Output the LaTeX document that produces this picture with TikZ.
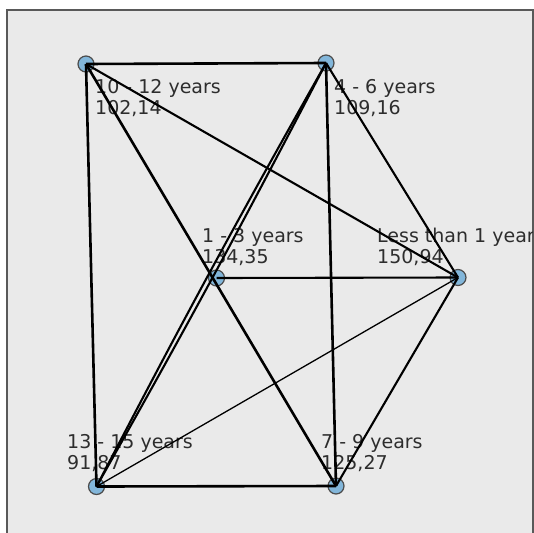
\documentclass[tikz,border=0pt]{standalone}
\usepackage{fontspec}
\setmainfont{DejaVu Sans}
\definecolor{nodeblue}{RGB}{130,182,218}
\definecolor{panelbg}{RGB}{234,234,234}
\definecolor{txtgray}{RGB}{45,45,45}
\begin{document}
\begin{tikzpicture}[x=1pt,y=-1pt,
  vertex/.style={circle,draw=black!70,fill=nodeblue,line width=1.2pt,minimum size=16pt,inner sep=0pt},
  lbl/.style={anchor=base west,inner sep=0pt,text=txtgray,font=\fontsize{19}{21}\selectfont},
  link/.style={draw=black,line width=2.6pt},
  midlink/.style={draw=black,line width=2.1pt},
  thinlink/.style={draw=black,line width=1.3pt}]
\useasboundingbox (0,0) rectangle (534,532);
\fill[white] (0,0) rectangle (534,532);
\draw[fill=panelbg,draw=black!65,line width=1.5pt] (7,10) rectangle (533,545);
\begin{scope}
\clip (7.75,10.75) rectangle (532.25,545);
% labels
\node[lbl] (la) at (95,93) {\begin{tabular}[t]{@{}l@{}}10 - 12 years\\102,14\end{tabular}};
\node[lbl] (lb) at (334,93) {\begin{tabular}[t]{@{}l@{}}4 - 6 years\\109,16\end{tabular}};
\node[lbl] (lc) at (202,242) {\begin{tabular}[t]{@{}l@{}}1 - 3 years\\134,35\end{tabular}};
\node[lbl] (ld) at (377,242) {\begin{tabular}[t]{@{}l@{}}Less than 1 year\\150,94\end{tabular}};
\node[lbl] (le) at (67,448) {\begin{tabular}[t]{@{}l@{}}13 - 15 years\\91,87\end{tabular}};
\node[lbl] (lf) at (321,448) {\begin{tabular}[t]{@{}l@{}}7 - 9 years\\125,27\end{tabular}};
% vertices
\node[vertex] (a) at (86,64) {};
\node[vertex] (b) at (326,63) {};
\node[vertex] (c) at (216.5,278) {};
\node[vertex] (d) at (458,277.5) {};
\node[vertex] (e) at (96.5,486.5) {};
\node[vertex] (f) at (336,486) {};
% edges
\draw[link] (a.center) -- (b.center);
\draw[link] (a.center) -- (e.center);
\draw[link] (a.center) -- (f.center);
\draw[midlink] (a.center) -- (d.center);
\draw[link] (b.center) -- (f.center);
\draw[midlink] (b.center) -- (d.center);
\draw[midlink] (b.center) to[bend left=1] (e.center);
\draw[midlink] (b.center) to[bend right=1] (e.center);
\draw[midlink] (c.center) -- (d.center);
\draw[thinlink] (d.center) -- (e.center);
\draw[midlink] (d.center) -- (f.center);
\draw[link] (e.center) -- (f.center);
\end{scope}
\end{tikzpicture}
\end{document}
